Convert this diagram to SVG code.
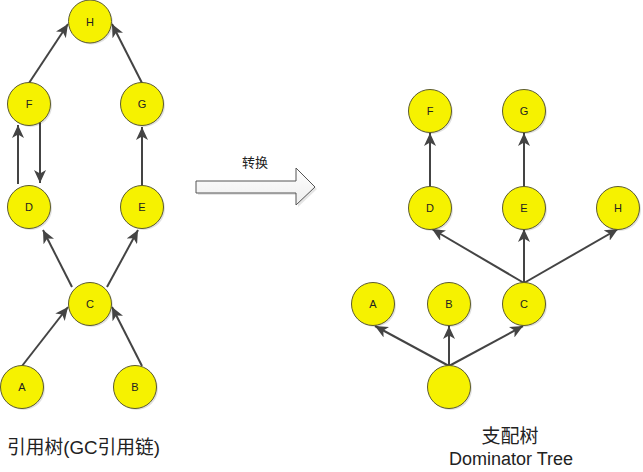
<svg xmlns="http://www.w3.org/2000/svg" width="643" height="472" viewBox="0 0 643 472">
<defs>
<style>
.node circle.b{fill:#f6f200;stroke:#5b5a2e;stroke-width:1}
.node circle.s{fill:#000;opacity:0.12}
.node text{font-family:"Liberation Sans",Arial,sans-serif;font-size:11px;fill:#222;text-anchor:middle}
.edge{stroke:#444;stroke-width:2;fill:none;marker-end:url(#ah)}
.cap{font-family:"Liberation Sans","Noto Sans CJK SC",sans-serif;fill:#222}
</style>
<marker id="ah" markerUnits="userSpaceOnUse" markerWidth="14" markerHeight="12" refX="13" refY="6" orient="auto" viewBox="0 0 14 12">
<path d="M0,0 L13,6 L0,12 L3.5,6 z" fill="#444"/>
</marker>
<linearGradient id="ag" x1="0" y1="0" x2="0" y2="1">
<stop offset="0" stop-color="#ffffff"/>
<stop offset="1" stop-color="#ededed"/>
</linearGradient>
</defs>
<rect width="643" height="472" fill="#fff"/>
<g id="connectors">
<!-- left tree -->
<line class="edge" x1="29" y1="83" x2="68" y2="24"/>
<line class="edge" x1="142" y1="83" x2="112" y2="24"/>
<line class="edge" x1="18" y1="184" x2="18" y2="125"/>
<line class="edge" x1="40" y1="122" x2="40" y2="183"/>
<line class="edge" x1="142" y1="187" x2="142" y2="127"/>
<line class="edge" x1="72" y1="287" x2="43" y2="230"/>
<line class="edge" x1="107" y1="287" x2="138" y2="230"/>
<line class="edge" x1="22" y1="366" x2="68" y2="307"/>
<line class="edge" x1="142" y1="366" x2="112" y2="307"/>
<!-- right tree -->
<line class="edge" x1="430" y1="188" x2="430" y2="133"/>
<line class="edge" x1="524" y1="188" x2="524" y2="133"/>
<line class="edge" x1="524" y1="283" x2="432" y2="229"/>
<line class="edge" x1="524" y1="283" x2="524" y2="229"/>
<line class="edge" x1="524" y1="283" x2="618" y2="229"/>
<line class="edge" x1="449" y1="366" x2="375" y2="326"/>
<line class="edge" x1="449" y1="366" x2="449" y2="326"/>
<line class="edge" x1="449" y1="366" x2="523" y2="326"/>
</g>
<g id="left-H" class="node"><circle class="s" cx="91.5" cy="23" r="21.5"/><circle class="b" cx="90" cy="21.5" r="21.5"/><text x="90" y="25.5">H</text></g>
<g id="left-F" class="node"><circle class="s" cx="30.5" cy="105.5" r="21.5"/><circle class="b" cx="29" cy="104" r="21.5"/><text x="29" y="108">F</text></g>
<g id="left-G" class="node"><circle class="s" cx="143.5" cy="105.5" r="21.5"/><circle class="b" cx="142" cy="104" r="21.5"/><text x="142" y="108">G</text></g>
<g id="left-D" class="node"><circle class="s" cx="30.5" cy="208.5" r="21.5"/><circle class="b" cx="29" cy="207" r="21.5"/><text x="29" y="211">D</text></g>
<g id="left-E" class="node"><circle class="s" cx="143.5" cy="208.5" r="21.5"/><circle class="b" cx="142" cy="207" r="21.5"/><text x="142" y="211">E</text></g>
<g id="left-C" class="node"><circle class="s" cx="91.5" cy="305.5" r="21.5"/><circle class="b" cx="90" cy="304" r="21.5"/><text x="90" y="308">C</text></g>
<g id="left-A" class="node"><circle class="s" cx="23.5" cy="388.5" r="21.5"/><circle class="b" cx="22" cy="387" r="21.5"/><text x="22" y="391">A</text></g>
<g id="left-B" class="node"><circle class="s" cx="136.5" cy="388.5" r="21.5"/><circle class="b" cx="135" cy="387" r="21.5"/><text x="135" y="391">B</text></g>

<g id="right-F" class="node"><circle class="s" cx="431.5" cy="112.5" r="21.5"/><circle class="b" cx="430" cy="111" r="21.5"/><text x="430" y="115">F</text></g>
<g id="right-G" class="node"><circle class="s" cx="525.5" cy="112.5" r="21.5"/><circle class="b" cx="524" cy="111" r="21.5"/><text x="524" y="115">G</text></g>
<g id="right-D" class="node"><circle class="s" cx="431.5" cy="209.5" r="21.5"/><circle class="b" cx="430" cy="208" r="21.5"/><text x="430" y="212">D</text></g>
<g id="right-E" class="node"><circle class="s" cx="525.5" cy="209.5" r="21.5"/><circle class="b" cx="524" cy="208" r="21.5"/><text x="524" y="212">E</text></g>
<g id="right-H" class="node"><circle class="s" cx="619.5" cy="209.5" r="21.5"/><circle class="b" cx="618" cy="208" r="21.5"/><text x="618" y="212">H</text></g>
<g id="right-A" class="node"><circle class="s" cx="374.5" cy="305.5" r="21.5"/><circle class="b" cx="373" cy="304" r="21.5"/><text x="373" y="308">A</text></g>
<g id="right-B" class="node"><circle class="s" cx="450.5" cy="305.5" r="21.5"/><circle class="b" cx="449" cy="304" r="21.5"/><text x="449" y="308">B</text></g>
<g id="right-C" class="node"><circle class="s" cx="525.5" cy="305.5" r="21.5"/><circle class="b" cx="524" cy="304" r="21.5"/><text x="524" y="308">C</text></g>
<g id="right-root" class="node"><circle class="s" cx="450.5" cy="388.5" r="21.5"/><circle class="b" cx="449" cy="387" r="21.5"/></g>

<g id="transform-arrow">
<path d="M198,183 L298,183 L298,170 L317,189 L298,207 L298,195 L198,195 z" fill="#ccc" opacity="0.5"/>
<path d="M196,181 L296,181 L296,168 L315,187 L296,205 L296,193 L196,193 z" fill="url(#ag)" stroke="#555" stroke-width="1"/>
<text class="cap" x="255" y="167" font-size="13" text-anchor="middle" fill="#444">转换</text>
</g>
<text id="left-caption" class="cap" x="7" y="454" font-size="19" textLength="153" lengthAdjust="spacingAndGlyphs">引用树(GC引用链)</text>
<text id="right-caption-1" class="cap" x="510" y="443" font-size="19" text-anchor="middle">支配树</text>
<text id="right-caption-2" class="cap" x="511" y="465" font-size="18" text-anchor="middle">Dominator Tree</text>
</svg>
